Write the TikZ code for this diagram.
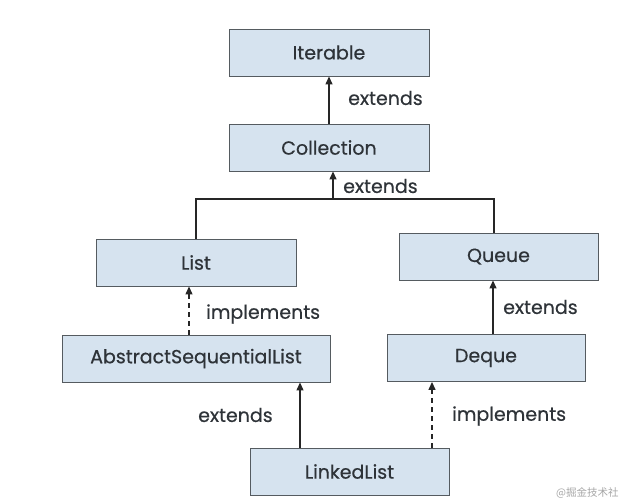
\documentclass[tikz,border=0pt]{standalone}
\usepackage{fontspec}
\setmainfont{Poppins}[FakeBold=0.4]
\newfontfamily\medfont{Poppins}[FakeBold=0.5]
\newfontfamily\cjk{Noto Sans CJK SC}
\usetikzlibrary{arrows.meta}
\definecolor{boxfill}{HTML}{D6E3EF}
\definecolor{boxline}{HTML}{555B60}
\definecolor{txt}{HTML}{2E3338}
\tikzset{
  cls/.style={draw=boxline, line width=0.9pt, fill=boxfill, minimum height=47pt, inner sep=0pt, font=\medfont\fontsize{19}{21}\selectfont, text=txt},
  lbl/.style={font=\medfont\fontsize{19}{21}\selectfont, text=txt, anchor=west, inner sep=0pt},
  ext/.style={draw=black!85, line width=1.3pt, -{Triangle[length=8pt,width=7pt]}},
  impl/.style={ext, dash pattern=on 5pt off 4pt},
}
\begin{document}
\begin{tikzpicture}[x=1pt,y=-1pt]
\useasboundingbox (0,0) rectangle (620,503);
\node[cls, minimum width=200pt] (it) at (329,52.5) {Iterable};
\node[cls, minimum width=200pt] (co) at (329,147.5) {Collection};
\node[cls, minimum width=200pt] (li) at (196,262.5) {List};
\node[cls, minimum width=199pt] (qu) at (498.5,256.5) {Queue};
\node[cls, minimum width=268pt] (asl) at (196,358.5) {AbstractSequentialList};
\node[cls, minimum width=198pt] (dq) at (486,358) {Deque};
\node[cls, minimum width=199pt] (ll) at (349.5,471.5) {LinkedList};
\coordinate (j) at (333,199);
\draw[ext] (co.north -| 329,0) -- (it.south -| 329,0);
\node[lbl] (l1) at (348,98) {extends};
\draw[line width=1.3pt, draw=black!85] (li.north -| 196,0) |- (494,199) -- (qu.north -| 494,0);
\draw[ext] (j) -- (co.south -| j);
\node[lbl] (l2) at (343,186) {extends};
\draw[impl] (asl.north -| 189,0) -- (li.south -| 189,0);
\node[lbl] (l3) at (206,314) {implements};
\draw[ext] (dq.north -| 493,0) -- (qu.south -| 493,0);
\node[lbl] (l4) at (503,307) {extends};
\draw[ext] (ll.north -| 300,0) -- (asl.south -| 300,0);
\node[lbl] (l5) at (198,415) {extends};
\draw[impl] (ll.north -| 432,0) -- (dq.south -| 432,0);
\node[lbl] (l6) at (452,416) {implements};
\node[anchor=west, inner sep=0pt, text=gray!70, font=\cjk\fontsize{10.5}{12}\selectfont] (wm) at (556,493) {@掘金技术社};
\end{tikzpicture}
\end{document}
